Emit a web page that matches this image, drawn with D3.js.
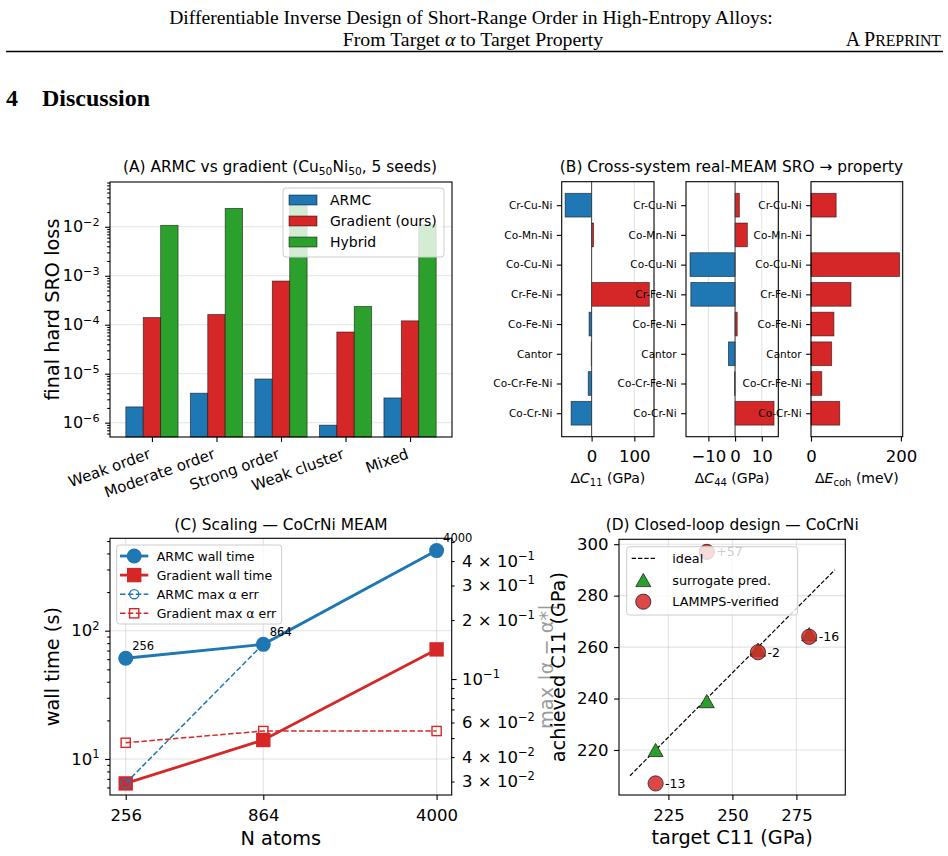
<!DOCTYPE html>
<html>
<head>
<meta charset="utf-8">
<script src="https://cdn.jsdelivr.net/npm/d3@7"></script>
<style>
  body { margin: 0; background: #fff; }
</style>
</head>
<body>
<div id="container"></div>
<script>
/* DATA */
// (A) final hard SRO loss per target, 5 seeds
const sroTargets = ["Weak order", "Moderate order", "Strong order", "Weak cluster", "Mixed"];
const armcLoss   = [2.1e-6, 4.0e-6, 7.8e-6, 8.9e-7, 3.2e-6];
const gradLoss   = [1.4e-4, 1.62e-4, 7.8e-4, 7.1e-5, 1.2e-4];
const hybridLoss = [1.07e-2, 2.37e-2, 3.2e-2, 2.36e-4, 1.1e-2];

// (B) property change per alloy system
const systems = ["Cr-Cu-Ni", "Co-Mn-Ni", "Co-Cu-Ni", "Cr-Fe-Ni", "Co-Fe-Ni", "Cantor", "Co-Cr-Fe-Ni", "Co-Cr-Ni"];
const dC11  = [-62, 4.5, 0, 135, -6, -1, -8, -48];
const dC44  = [1.6, 4.6, -16.9, -16.6, 0.8, -2.5, -0.2, 14.6];
const dEcoh = [56, 0, 197, 89, 51, 46, 24, 64];

// (C) scaling
const nAtoms   = [256, 864, 4000];
const armcWall = [61, 78.3, 421];
const gradWall = [6.45, 14.06, 71.5];
const armcErr  = [0.0294, 0.151, 0.455];
const gradErr  = [0.0473, 0.0543, 0.0543];

// (D) closed-loop design
const targetC11    = [220, 240, 260, 280];
const surrogateC11 = [220, 239, 259, 265];
const achievedC11  = [207, 297, 258, 264];

/* CONSTANTS */
const width = 948, height = 856;
const FONT = "DejaVu Sans, sans-serif";
const blue = "#1f77b4", red = "#d62728", green = "#2ca02c";
const TICK = 4.9, MINOR = 2.8, LABEL = 19.3;

const svg = d3.select("#container").append("svg")
  .attr("width", width).attr("height", height)
  .attr("font-family", FONT)
  .style("background", "#fff");

// style a d3 axis like matplotlib
function axis(g, gen, fs) {
  g.call(gen);
  g.select(".domain").remove();
  g.attr("font-family", null).attr("font-size", null);
  g.selectAll(".tick line").attr("stroke", "#000").attr("stroke-width", 1.1);
  g.selectAll(".tick text").attr("font-size", fs).attr("fill", "#000").attr("font-family", FONT);
  return g;
}
function powLabel(text, mant, exp, fs) {
  text.text(null);
  text.append("tspan").text(mant);
  text.append("tspan").attr("font-size", fs * 0.7).attr("dy", -fs * 0.42).text(exp);
}
function logMinors(dom, skip) {
  const out = [];
  for (let e = -8; e <= 4; e++) for (let k = 2; k <= 9; k++) {
    const v = +(k * Math.pow(10, e)).toPrecision(3);
    if (v >= dom[0] && v <= dom[1] && !(skip || []).includes(v)) out.push(v);
  }
  return out;
}
function frame(g, b) {
  g.append("rect").attr("x", b.l).attr("y", b.t).attr("width", b.r - b.l).attr("height", b.b - b.t)
    .attr("fill", "none").attr("stroke", "#000").attr("stroke-width", 1.1);
}
function gridLine(sel) {
  return sel.attr("stroke", "#b0b0b0").attr("stroke-opacity", 0.35).attr("stroke-width", 1.1);
}
function title(g, x, y, txt) {
  return g.append("text").attr("x", x).attr("y", y).attr("text-anchor", "middle").attr("font-size", 15.4).text(txt);
}
function yLabel(g, x, y, txt, fs) {
  return g.append("text").attr("transform", `translate(${x},${y}) rotate(-90)`)
    .attr("text-anchor", "middle").attr("font-size", fs || LABEL).text(txt);
}
function legendBox(g, x, y, w, h) {
  g.append("rect").attr("x", x).attr("y", y).attr("width", w).attr("height", h).attr("rx", 3)
    .attr("fill", "#fff").attr("fill-opacity", 0.8).attr("stroke", "#ccc").attr("stroke-width", 1);
}

/* HEADER */
const head = svg.append("g").attr("font-family", "Liberation Serif, Times New Roman, serif");
head.append("text").attr("x", 471).attr("y", 24).attr("text-anchor", "middle").attr("font-size", 19.6)
  .text("Differentiable Inverse Design of Short-Range Order in High-Entropy Alloys:");
const h2 = head.append("text").attr("x", 473).attr("y", 46).attr("text-anchor", "middle").attr("font-size", 19.8);
h2.append("tspan").text("From Target ");
h2.append("tspan").attr("font-style", "italic").text("α");
h2.append("tspan").text(" to Target Property");
const pre = head.append("text").attr("x", 941).attr("y", 46).attr("text-anchor", "end").attr("font-size", 20);
pre.append("tspan").text("A P");
pre.append("tspan").attr("font-size", 15.8).text("REPRINT");
head.append("line").attr("x1", 6).attr("x2", 943).attr("y1", 51.5).attr("y2", 51.5).attr("stroke", "#000").attr("stroke-width", 1.3);
head.append("text").attr("x", 6).attr("y", 106).attr("font-size", 24).attr("font-weight", "bold").text("4");
head.append("text").attr("x", 42).attr("y", 106).attr("font-size", 24).attr("font-weight", "bold").text("Discussion");

/* PANEL A */
{
  const b = { l: 110, r: 452, t: 182, b: 437 };
  const g = svg.append("g");
  const x = d3.scalePoint().domain(sroTargets).range([b.l, b.r]).padding(0.65);
  const dom = [5.1e-7, 0.082];
  const y = d3.scaleLog().domain(dom).range([b.b, b.t]);
  const majors = [1e-6, 1e-5, 1e-4, 1e-3, 1e-2];

  g.selectAll(".gy").data(majors).join("line").call(gridLine)
    .attr("x1", b.l).attr("x2", b.r).attr("y1", d => y(d)).attr("y2", d => y(d));

  const bw = x.step() * 0.27;
  const series = [
    { name: "ARMC", vals: armcLoss, color: blue, off: -1 },
    { name: "Gradient (ours)", vals: gradLoss, color: red, off: 0 },
    { name: "Hybrid", vals: hybridLoss, color: green, off: 1 }
  ];
  series.forEach(s => {
    g.append("g").selectAll("rect").data(s.vals).join("rect")
      .attr("x", (d, i) => x(sroTargets[i]) + s.off * bw - bw / 2)
      .attr("y", d => y(d)).attr("width", bw).attr("height", d => b.b - y(d))
      .attr("fill", s.color).attr("stroke", "#000").attr("stroke-opacity", 0.6).attr("stroke-width", 0.8);
  });

  const ay = axis(g.append("g").attr("transform", `translate(${b.l},0)`),
    d3.axisLeft(y).tickValues(majors).tickSize(TICK).tickPadding(5.5), 16);
  ay.selectAll(".tick text").each(function (d) { powLabel(d3.select(this), "10", "−" + Math.round(-Math.log10(d)), 16); });
  axis(g.append("g").attr("transform", `translate(${b.l},0)`),
    d3.axisLeft(y).tickValues(logMinors(dom, majors)).tickSize(MINOR).tickFormat(""), 10);

  const ax = axis(g.append("g").attr("transform", `translate(0,${b.b})`),
    d3.axisBottom(x).tickSize(TICK), 15);
  ax.selectAll(".tick text").attr("y", null).attr("dy", null).attr("text-anchor", "end")
    .attr("transform", "translate(-1,21) rotate(-20)");

  frame(g, b);
  yLabel(g, 59, (b.t + b.b) / 2, "final hard SRO loss");
  const t = g.append("text").attr("x", (b.l + b.r) / 2 - 1).attr("y", 172).attr("text-anchor", "middle").attr("font-size", 15.4);
  t.append("tspan").text("(A) ARMC vs gradient (Cu");
  t.append("tspan").attr("font-size", 10.7).attr("dy", 3).text("50");
  t.append("tspan").attr("dy", -3).text("Ni");
  t.append("tspan").attr("font-size", 10.7).attr("dy", 3).text("50");
  t.append("tspan").attr("dy", -3).text(", 5 seeds)");

  // legend
  legendBox(g, 283, 188, 161, 69);
  series.forEach((s, i) => {
    const cy = 200 + i * 21;
    g.append("rect").attr("x", 289).attr("y", cy - 5).attr("width", 28).attr("height", 10)
      .attr("fill", s.color).attr("stroke", "#000").attr("stroke-opacity", 0.6).attr("stroke-width", 0.8);
    g.append("text").attr("x", 330).attr("y", cy).attr("dy", "0.36em").attr("font-size", 14).text(s.name);
  });
}

/* PANEL B */
{
  const top = 181.7, bot = 436.7;
  const g = svg.append("g");
  const y = d3.scalePoint().domain(systems).range([top, bot]).padding(0.79);
  const bh = y.step() * 0.8;
  const subs = [
    { l: 561.7, r: 654, dom: [-70, 146], ticks: [0, 100], vals: dC11, lab: ["C", "11", " (GPa)"], zero: true },
    { l: 686, r: 778.3, dom: [-18.4, 16.2], ticks: [-10, 0, 10], vals: dC44, lab: ["C", "44", " (GPa)"], zero: true },
    { l: 811, r: 902.7, dom: [0, 204], ticks: [0, 200], vals: dEcoh, lab: ["E", "coh", " (meV)"], zero: false }
  ];
  subs.forEach(s => {
    const b = { l: s.l, r: s.r, t: top, b: bot };
    const x = d3.scaleLinear().domain(s.dom).range([s.l, s.r]);
    g.append("g").selectAll("line").data(s.ticks).join("line").call(gridLine)
      .attr("x1", d => x(d)).attr("x2", d => x(d)).attr("y1", top).attr("y2", bot);
    g.append("g").selectAll("rect").data(s.vals).join("rect")
      .attr("x", d => x(Math.min(0, d))).attr("width", d => Math.abs(x(d) - x(0)))
      .attr("y", (d, i) => y(systems[i]) - bh / 2).attr("height", bh)
      .attr("fill", d => d < 0 ? blue : red)
      .attr("stroke", "#000").attr("stroke-opacity", 0.6).attr("stroke-width", 0.8);
    if (s.zero) g.append("line").attr("x1", x(0)).attr("x2", x(0)).attr("y1", top).attr("y2", bot)
      .attr("stroke", "#444").attr("stroke-width", 1);
    const ax = axis(g.append("g").attr("transform", `translate(0,${bot})`),
      d3.axisBottom(x).tickValues(s.ticks).tickSize(TICK).tickFormat(d => d < 0 ? "−" + (-d) : d), 16.5);
    ax.selectAll(".tick text").attr("dy", null).attr("y", 25);
    axis(g.append("g").attr("transform", `translate(${s.l},0)`),
      d3.axisLeft(y).tickSize(TICK).tickPadding(4.5), 10.5);
    frame(g, b);
    const t = g.append("text").attr("x", (s.l + s.r) / 2).attr("y", 483).attr("text-anchor", "middle").attr("font-size", 14);
    t.append("tspan").text("Δ");
    t.append("tspan").attr("font-style", "italic").text(s.lab[0]);
    t.append("tspan").attr("font-size", 10).attr("dy", 3).text(s.lab[1]);
    t.append("tspan").attr("dy", -3).text(s.lab[2]);
  });
  title(g, 731.5, 172, "(B) Cross-system real-MEAM SRO → property");
}

/* PANEL C */
{
  const b = { l: 110, r: 451.7, t: 538.3, b: 795 };
  const g = svg.append("g");
  const x = d3.scaleLog().domain([222.8, 4571]).range([b.l, b.r]);
  const yDom = [5.24, 525], rDom = [0.02561, 0.5224];
  const y = d3.scaleLog().domain(yDom).range([b.b, b.t]);
  const yr = d3.scaleLog().domain(rDom).range([b.b, b.t]);

  g.append("g").selectAll("line").data(nAtoms).join("line").call(gridLine)
    .attr("x1", d => x(d)).attr("x2", d => x(d)).attr("y1", b.t).attr("y2", b.b);
  g.append("g").selectAll("line").data([10, 100]).join("line").call(gridLine)
    .attr("x1", b.l).attr("x2", b.r).attr("y1", d => y(d)).attr("y2", d => y(d));

  const pts = (vals, sc) => vals.map((v, i) => [x(nAtoms[i]), sc(v)]);
  const line = d3.line();
  // wall times (left axis)
  g.append("path").attr("d", line(pts(armcWall, y))).attr("fill", "none").attr("stroke", blue).attr("stroke-width", 2.8);
  g.append("g").selectAll("circle").data(pts(armcWall, y)).join("circle")
    .attr("cx", d => d[0]).attr("cy", d => d[1]).attr("r", 7.5).attr("fill", blue);
  g.append("path").attr("d", line(pts(gradWall, y))).attr("fill", "none").attr("stroke", red).attr("stroke-width", 2.8);
  g.append("g").selectAll("rect").data(pts(gradWall, y)).join("rect")
    .attr("x", d => d[0] - 7.2).attr("y", d => d[1] - 7.2).attr("width", 14.4).attr("height", 14.4).attr("fill", red);
  // max alpha errors (right axis)
  g.append("path").attr("d", line(pts(armcErr, yr))).attr("fill", "none").attr("stroke", blue)
    .attr("stroke-width", 1.5).attr("stroke-dasharray", "5.5,2.4");
  g.append("g").selectAll("circle").data(pts(armcErr, yr)).join("circle")
    .attr("cx", d => d[0]).attr("cy", d => d[1]).attr("r", 4.6).attr("fill", "none").attr("stroke", blue).attr("stroke-width", 1.4);
  g.append("path").attr("d", line(pts(gradErr, yr))).attr("fill", "none").attr("stroke", red)
    .attr("stroke-width", 1.5).attr("stroke-dasharray", "5.5,2.4");
  g.append("g").selectAll("rect").data(pts(gradErr, yr)).join("rect")
    .attr("x", d => d[0] - 4.6).attr("y", d => d[1] - 4.6).attr("width", 9.2).attr("height", 9.2)
    .attr("fill", "none").attr("stroke", red).attr("stroke-width", 1.4);
  // N annotations
  g.append("g").selectAll("text").data(pts(armcWall, y)).join("text")
    .attr("x", d => d[0] + 6.5).attr("y", d => d[1] - 8.5).attr("font-size", 11.5).text((d, i) => nAtoms[i]);

  // axes
  const ax = axis(g.append("g").attr("transform", `translate(0,${b.b})`),
    d3.axisBottom(x).tickValues(nAtoms).tickSize(TICK).tickFormat(d => d), 16.5);
  ax.selectAll(".tick text").attr("dy", null).attr("y", 26);
  const ay = axis(g.append("g").attr("transform", `translate(${b.l},0)`),
    d3.axisLeft(y).tickValues([10, 100]).tickSize(TICK).tickPadding(5.5), 16.5);
  ay.selectAll(".tick text").each(function (d) { powLabel(d3.select(this), "10", String(Math.round(Math.log10(d))), 16.5); });
  axis(g.append("g").attr("transform", `translate(${b.l},0)`),
    d3.axisLeft(y).tickValues(logMinors(yDom, [10, 100])).tickSize(MINOR).tickFormat(""), 10);
  const rLabeled = [0.03, 0.04, 0.06, 0.2, 0.3, 0.4];
  const ar = axis(g.append("g").attr("transform", `translate(${b.r},0)`),
    d3.axisRight(yr).tickValues([0.1]).tickSize(TICK).tickPadding(5.5), 16.5);
  ar.selectAll(".tick text").each(function () { powLabel(d3.select(this), "10", "−1", 16.5); });
  const arm = axis(g.append("g").attr("transform", `translate(${b.r},0)`),
    d3.axisRight(yr).tickValues(logMinors(rDom, [0.1])).tickSize(MINOR).tickPadding(7.6)
      .tickFormat(d => rLabeled.includes(d) ? d : ""), 16.5);
  arm.selectAll(".tick text").each(function (d) {
    if (!rLabeled.includes(d)) return;
    const e = Math.floor(Math.log10(d) + 1e-9);
    powLabel(d3.select(this), Math.round(d / Math.pow(10, e)) + " × 10", "−" + (-e), 16.5);
  });

  frame(g, b);
  yLabel(g, 59, (b.t + b.b) / 2, "wall time (s)");
  g.append("text").attr("x", (b.l + b.r) / 2).attr("y", 845).attr("text-anchor", "middle").attr("font-size", LABEL).text("N atoms");
  title(g, (b.l + b.r) / 2, 530, "(C) Scaling — CoCrNi MEAM");
  // right axis label (falls on panel D's side)
  yLabel(g, 553, (b.t + b.b) / 2, "max |α − α*|").attr("fill", "#9a9a9a");

  // legend
  legendBox(g, 116.7, 545, 165, 79);
  const lx0 = 120, lx1 = 148.3, lc = 134.2;
  const items = ["ARMC wall time", "Gradient wall time", "ARMC max α err", "Gradient max α err"];
  items.forEach((name, i) => {
    const cy = 556 + i * 19.1;
    const col = i % 2 === 0 ? blue : red;
    const ln = g.append("line").attr("x1", lx0).attr("x2", lx1).attr("y1", cy).attr("y2", cy).attr("stroke", col);
    if (i < 2) ln.attr("stroke-width", 2.8);
    else ln.attr("stroke-width", 1.5).attr("stroke-dasharray", "5.5,2.4");
    if (i === 0) g.append("circle").attr("cx", lc).attr("cy", cy).attr("r", 7.5).attr("fill", blue);
    if (i === 1) g.append("rect").attr("x", lc - 7.2).attr("y", cy - 7.2).attr("width", 14.4).attr("height", 14.4).attr("fill", red);
    if (i === 2) g.append("circle").attr("cx", lc).attr("cy", cy).attr("r", 4.6).attr("fill", "none").attr("stroke", blue).attr("stroke-width", 1.4);
    if (i === 3) g.append("rect").attr("x", lc - 4.6).attr("y", cy - 4.6).attr("width", 9.2).attr("height", 9.2).attr("fill", "none").attr("stroke", red).attr("stroke-width", 1.4);
    g.append("text").attr("x", 156.7).attr("y", cy).attr("dy", "0.36em").attr("font-size", 12.5).text(name);
  });
}

/* PANEL D */
{
  const b = { l: 619, r: 845.3, t: 539.3, b: 795 };
  const g = svg.append("g");
  const x = d3.scaleLinear().domain([205.7, 294.1]).range([b.l, b.r]);
  const y = d3.scaleLinear().domain([202.5, 301.9]).range([b.b, b.t]);
  const xt = [225, 250, 275], yt = [220, 240, 260, 280, 300];

  g.append("g").selectAll("line").data(xt).join("line").call(gridLine)
    .attr("x1", d => x(d)).attr("x2", d => x(d)).attr("y1", b.t).attr("y2", b.b);
  g.append("g").selectAll("line").data(yt).join("line").call(gridLine)
    .attr("x1", b.l).attr("x2", b.r).attr("y1", d => y(d)).attr("y2", d => y(d));

  // ideal y = x
  g.append("line").attr("x1", x(210)).attr("y1", y(210)).attr("x2", x(290)).attr("y2", y(290))
    .attr("stroke", "#000").attr("stroke-width", 1.2).attr("stroke-dasharray", "4.4,1.9");

  const tri = "M0,-6.6L7.5,6.6L-7.5,6.6Z";
  g.append("g").selectAll("path").data(surrogateC11).join("path")
    .attr("d", tri).attr("transform", (d, i) => `translate(${x(targetC11[i])},${y(d)})`)
    .attr("fill", green).attr("stroke", "#222").attr("stroke-width", 0.8);
  g.append("g").selectAll("circle").data(achievedC11).join("circle")
    .attr("cx", (d, i) => x(targetC11[i])).attr("cy", d => y(d)).attr("r", 7.6)
    .attr("fill", red).attr("fill-opacity", 0.85).attr("stroke", "#222").attr("stroke-width", 0.8);
  g.append("g").selectAll("text").data(achievedC11).join("text")
    .attr("x", (d, i) => x(targetC11[i]) + 9.5).attr("y", d => y(d)).attr("dy", "0.36em").attr("font-size", 12.5)
    .text((d, i) => { const v = d - targetC11[i]; return (v > 0 ? "+" : "") + v; });

  const ax = axis(g.append("g").attr("transform", `translate(0,${b.b})`),
    d3.axisBottom(x).tickValues(xt).tickSize(TICK), 16.5);
  ax.selectAll(".tick text").attr("dy", null).attr("y", 26);
  axis(g.append("g").attr("transform", `translate(${b.l},0)`),
    d3.axisLeft(y).tickValues(yt).tickSize(TICK).tickPadding(5.5), 16.5);

  frame(g, b);
  yLabel(g, 565, (b.t + b.b) / 2, "achieved C11 (GPa)");
  g.append("text").attr("x", (b.l + b.r) / 2).attr("y", 844).attr("text-anchor", "middle").attr("font-size", LABEL).text("target C11 (GPa)");
  title(g, (b.l + b.r) / 2, 530, "(D) Closed-loop design — CoCrNi");

  // legend
  legendBox(g, 626.7, 546.7, 171, 68.3);
  g.append("line").attr("x1", 631.7).attr("x2", 655).attr("y1", 558.3).attr("y2", 558.3)
    .attr("stroke", "#000").attr("stroke-width", 1.2).attr("stroke-dasharray", "4.4,1.9");
  g.append("path").attr("d", tri).attr("transform", "translate(643.3,580)")
    .attr("fill", green).attr("stroke", "#222").attr("stroke-width", 0.8);
  g.append("circle").attr("cx", 643.3).attr("cy", 601.7).attr("r", 7.6)
    .attr("fill", red).attr("fill-opacity", 0.85).attr("stroke", "#222").attr("stroke-width", 0.8);
  ["ideal", "surrogate pred.", "LAMMPS-verified"].forEach((name, i) => {
    g.append("text").attr("x", 672.3).attr("y", 558.3 + i * 21.7).attr("dy", "0.36em").attr("font-size", 12.8).text(name);
  });
}
</script>
</body>
</html>
